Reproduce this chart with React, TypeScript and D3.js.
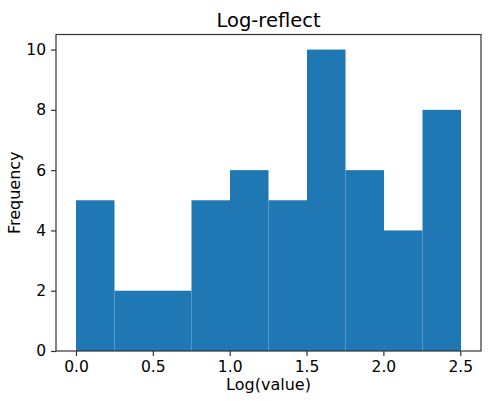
import { useEffect, useRef } from "react"
import * as d3 from "d3"

// Histogram bins
const binEdges = [0, 0.2505, 0.501, 0.7515, 1.002, 1.2525, 1.503, 1.7535, 2.004, 2.2545, 2.505]
const counts = [5, 2, 2, 5, 6, 5, 10, 6, 4, 8]
const xTicks = [0, 0.5, 1.0, 1.5, 2.0, 2.5]
const yTicks = [0, 2, 4, 6, 8, 10]

const W = 489
const H = 401
const FONT = "DejaVu Sans, sans-serif"

export default function App() {
  const ref = useRef<SVGSVGElement>(null)

  useEffect(() => {
    document.body.style.margin = "0"
    const svg = d3.select(ref.current)
    svg.selectAll("*").remove()

    const left = 56
    const right = 481
    const top = 34.5
    const bottom = 351

    const x = d3.scaleLinear().domain([-0.13, 2.635]).range([left, right])
    const y = d3.scaleLinear().domain([0, 10.5]).range([bottom, top])

    const bins = counts.map((c, i) => ({ x0: binEdges[i], x1: binEdges[i + 1], c }))

    // Bars
    svg
      .append("g")
      .selectAll("rect")
      .data(bins)
      .enter()
      .append("rect")
      .attr("x", (d) => x(d.x0))
      .attr("y", (d) => y(d.c))
      .attr("width", (d) => x(d.x1) - x(d.x0))
      .attr("height", (d) => y(0) - y(d.c))
      .style("fill", "#1f77b4")

    // X axis
    const xAxis = svg
      .append("g")
      .attr("transform", `translate(0,${bottom})`)
      .call(
        d3
          .axisBottom(x)
          .tickValues(xTicks)
          .tickFormat((d) => d3.format(".1f")(d as number))
          .tickSize(5)
          .tickPadding(5)
          .tickSizeOuter(0)
      )

    // Y axis
    const yAxis = svg
      .append("g")
      .attr("transform", `translate(${left},0)`)
      .call(
        d3
          .axisLeft(y)
          .tickValues(yTicks)
          .tickFormat((d) => String(d))
          .tickSize(5)
          .tickPadding(5)
          .tickSizeOuter(0)
      )

    ;[xAxis, yAxis].forEach((g) => {
      g.select(".domain").remove()
      g.selectAll("line").attr("stroke", "#333").attr("stroke-width", 1.2)
      g.selectAll("text")
        .attr("fill", "#000")
        .style("font-family", FONT)
        .style("font-size", "15.5px")
    })

    // Frame
    svg
      .append("rect")
      .attr("x", left)
      .attr("y", top)
      .attr("width", right - left)
      .attr("height", bottom - top)
      .attr("fill", "none")
      .attr("stroke", "#333")
      .attr("stroke-width", 1.2)

    // Title
    svg
      .append("text")
      .attr("x", (left + right) / 2)
      .attr("y", 27)
      .attr("text-anchor", "middle")
      .style("font-family", FONT)
      .style("font-size", "19.5px")
      .text("Log-reflect")

    // X label
    svg
      .append("text")
      .attr("x", (left + right) / 2)
      .attr("y", 390)
      .attr("text-anchor", "middle")
      .style("font-family", FONT)
      .style("font-size", "16px")
      .text("Log(value)")

    // Y label
    svg
      .append("text")
      .attr("transform", `translate(20,${(top + bottom) / 2}) rotate(-90)`)
      .attr("text-anchor", "middle")
      .style("font-family", FONT)
      .style("font-size", "16px")
      .text("Frequency")
  }, [])

  return <svg ref={ref} width={W} height={H} style={{ display: "block", background: "#fff" }} />
}
